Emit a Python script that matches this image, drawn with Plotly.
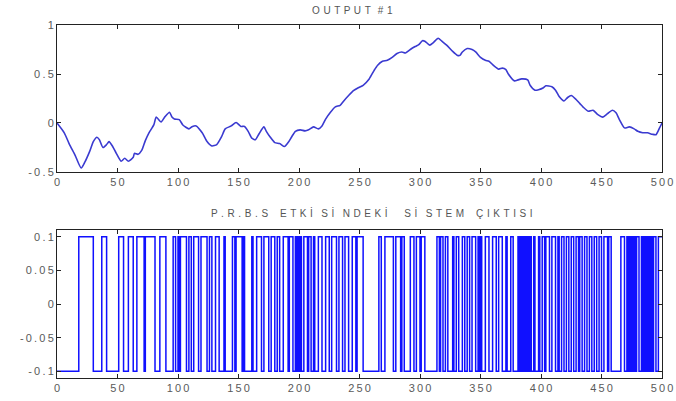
import plotly.graph_objects as go
from plotly.subplots import make_subplots

# Output #1 response (sample index, amplitude)
output_x = [0, 6, 10, 15, 20, 23, 27, 30, 33, 35, 38, 41, 43, 46, 49, 53, 56, 59, 63, 64,
            67, 70, 73, 76, 80, 82, 86, 89, 93, 95, 97, 101, 104, 109, 112, 115, 120, 124, 128, 132,
            136, 139, 144, 148, 152, 155, 158, 161, 164, 167, 171, 173, 176, 180, 184, 188, 191, 194, 197, 201,
            205, 208, 212, 216, 219, 222, 226, 230, 234, 237, 241, 245, 249, 253, 258, 262, 265, 269, 273, 277,
            281, 285, 288, 292, 296, 299, 302, 304, 308, 311, 315, 318, 322, 327, 331, 333, 335, 339, 343, 346,
            350, 354, 357, 361, 365, 368, 371, 373, 378, 381, 384, 389, 391, 395, 398, 402, 404, 409, 412, 415,
            419, 422, 425, 429, 432, 435, 439, 443, 447, 451, 455, 459, 462, 465, 469, 473, 477, 480, 484, 488,
            492, 495, 498, 500]
output_y = [0.0, -0.10, -0.21, -0.33, -0.46, -0.40, -0.29, -0.19, -0.145, -0.17, -0.25, -0.22, -0.19, -0.24, -0.31, -0.39, -0.36, -0.39, -0.35, -0.31,
            -0.32, -0.28, -0.18, -0.10, -0.02, 0.06, 0.01, 0.06, 0.11, 0.06, 0.04, 0.035, -0.02, -0.06, -0.035, -0.03, -0.10, -0.19, -0.235, -0.22,
            -0.14, -0.06, -0.03, 0.005, -0.035, -0.035, -0.085, -0.155, -0.17, -0.11, -0.04, -0.085, -0.14, -0.20, -0.21, -0.24, -0.20, -0.14, -0.085, -0.07,
            -0.08, -0.07, -0.04, -0.06, -0.03, 0.04, 0.11, 0.165, 0.18, 0.225, 0.28, 0.33, 0.36, 0.385, 0.45, 0.535, 0.59, 0.63, 0.64, 0.67,
            0.71, 0.725, 0.715, 0.75, 0.78, 0.80, 0.84, 0.835, 0.795, 0.82, 0.865, 0.835, 0.795, 0.73, 0.69, 0.69, 0.725, 0.76, 0.75, 0.725,
            0.67, 0.64, 0.63, 0.585, 0.55, 0.56, 0.545, 0.50, 0.43, 0.44, 0.45, 0.44, 0.385, 0.335, 0.34, 0.36, 0.38, 0.37, 0.335, 0.27,
            0.225, 0.26, 0.28, 0.24, 0.20, 0.16, 0.12, 0.13, 0.085, 0.06, 0.095, 0.13, 0.105, 0.03, -0.05, -0.04, -0.06, -0.085, -0.10, -0.10,
            -0.115, -0.12, -0.05, 0.0]

# PRBS: starting level, end sample and the samples where the level flips
prbs_start = -0.1
prbs_end = 500
prbs_switch = [18, 30, 37, 41, 51, 55, 59, 63, 66, 72, 73, 81, 85, 90, 96, 98, 100, 101, 102, 107,
               109, 111, 113, 117, 119, 124,
               126, 128, 131, 134, 138, 139, 145, 147, 148, 153, 154, 155, 161, 162, 165, 169, 171, 175,
               177, 180, 182, 184, 187, 191, 192, 195, 197, 198, 199, 200, 201, 202, 204, 207, 208, 210,
               212, 213, 216, 219, 222, 225, 227, 231,
               233, 236, 238, 241, 244, 247, 248, 253, 266, 268, 271, 278, 280, 284, 285, 287, 292, 295,
               297, 300, 301, 304, 314, 316, 317, 319, 321, 323, 327, 328, 330, 332, 335, 337, 339, 341,
               343, 346, 348, 349, 350, 351, 354, 357, 360, 363, 365, 368, 371, 372, 375, 377,
               381, 382, 383, 384, 385, 386, 387, 388, 389, 390, 391, 392,
               394, 395, 398, 399, 401, 403, 404, 407, 409, 412, 414, 415, 417, 419, 421, 423, 425, 427,
               429, 431, 432, 434, 436, 438, 440, 442, 444, 446, 448, 450, 452, 455, 456, 458,
               466, 469, 471, 472, 473, 474, 475, 476, 477, 478, 479, 481,
               483, 484, 485, 486, 487, 488, 489, 490, 491, 492, 493, 495, 497]

x_ticks = [0, 50, 100, 150, 200, 250, 300, 350, 400, 450, 500]
top_y_ticks = [-0.5, 0, 0.5, 1]
bot_y_ticks = [-0.1, -0.05, 0, 0.05, 0.1]

top_title = "OUTPUT #1"
bot_title = "P.R.B.S ETKİSİNDEKİ SİSTEM ÇIKTISI"

# build the step signal
prbs_levels = [prbs_start * (-1) ** i for i in range(len(prbs_switch) + 1)]
prbs_x = [0] + prbs_switch + [prbs_end]
prbs_y = prbs_levels + [prbs_levels[-1]]


def spaced(s):
    # loose letter spacing for tick numbers
    return "\u2009".join(s)


def wide(s, gap=" ", word_gap="   ", dotted_gap="   "):
    # letter-spaced title text
    out = []
    for ch in s:
        if ch == " ":
            out.append(word_gap)
        elif ch == "İ":
            out.append(ch + dotted_gap)
        else:
            out.append(ch + gap)
    return "".join(out).strip()


def num_label(v):
    return spaced("%g" % v)


fig = make_subplots(rows=2, cols=1, vertical_spacing=0.1645)

fig.add_trace(go.Scatter(x=output_x, y=output_y, mode="lines",
                         line=dict(color="#3a3ad0", width=1.6, shape="spline", smoothing=0.6),
                         showlegend=False), row=1, col=1)
fig.add_trace(go.Scatter(x=prbs_x, y=prbs_y, mode="lines",
                         line=dict(color="#1010ff", width=1.5, shape="hv"),
                         showlegend=False), row=2, col=1)

font_family = "Liberation Sans, Arial, sans-serif"
tickfont = dict(family=font_family, size=11, color="#5a5a5a")
axis_common = dict(showline=True, linecolor="#222222", linewidth=1, mirror="ticks",
                   ticks="inside", ticklen=4, tickcolor="#222222", automargin=False,
                   showgrid=False, zeroline=False, tickfont=tickfont)

for r in (1, 2):
    fig.update_xaxes(range=[0, 500], tickvals=x_ticks,
                     ticktext=[num_label(v) for v in x_ticks], row=r, col=1, **axis_common)

fig.update_yaxes(range=[-0.5, 1], tickvals=top_y_ticks,
                 ticktext=[num_label(v) for v in top_y_ticks], row=1, col=1, **axis_common)
fig.update_yaxes(range=[-0.11, 0.11], tickvals=bot_y_ticks,
                 ticktext=[num_label(v) for v in bot_y_ticks], row=2, col=1, **axis_common)

fig.update_layout(
    width=676, height=401,
    margin=dict(l=57, r=14, t=25, b=23),
    plot_bgcolor="white", paper_bgcolor="white",
    yaxis=dict(domain=[0.5836, 1.0]),
    yaxis2=dict(domain=[0.0, 0.419]),
    annotations=[
        dict(text=wide(top_title, gap=" \u200a", word_gap=" \u200a"), x=0.488, y=1.042,
             xref="paper", yref="paper",
             xanchor="center", yanchor="middle", showarrow=False,
             font=dict(family=font_family, size=10, color="#555555")),
        dict(text=wide(bot_title, gap=" \u200a", word_gap="   ", dotted_gap="   "), x=0.52, y=0.468,
             xref="paper", yref="paper",
             xanchor="center", yanchor="middle", showarrow=False,
             font=dict(family=font_family, size=10, color="#555555")),
    ],
)

fig.write_html("out.html")
